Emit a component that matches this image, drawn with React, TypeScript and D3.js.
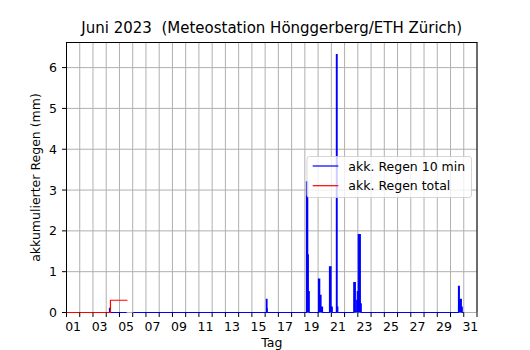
import React from "react";
import * as d3 from "d3";

// Blue series: "akk. Regen 10 min" (day of month, mm), step values; null = missing data
const blueDay = [4.21, 4.247, 4.308, 5.546, 5.55, 6.045, 16.095, 16.14, 16.162, 19.124, 19.215, 19.26, 19.328, 20.03, 20.121, 20.219, 20.332, 20.861, 20.975, 21.065, 21.382, 21.435, 21.488, 22.697, 22.81, 22.916, 22.961, 23.036, 23.187, 23.255, 30.603, 30.664, 30.815, 30.883, 31.0];
const blueMm: (number | null)[] = [0, 0.1, 0, 0, null, 0, 0.32, 0.1, 0, 3.2, 1.41, 0.51, 0, 0.82, 0.42, 0.13, 0, 1.12, 0.13, 0, 6.32, 0.13, 0, 0.73, 0.03, 0.3, 0.51, 1.91, 0.21, 0, 0.64, 0.32, 0.13, 0, 0];

// Red series: "akk. Regen total"
const redDay = [1, 4.32, 5.6];
const redMm = [0, 0.3, 0.3];

const xTickLabels = ["01", "03", "05", "07", "09", "11", "13", "15", "17", "19", "21", "23", "25", "27", "29", "31"];
const xTickLabelDays = [1, 3, 5, 7, 9, 11, 13, 15, 17, 19, 21, 23, 25, 27, 29, 31];
const yTicks = [0, 1, 2, 3, 4, 5, 6];
const gridDays = d3.range(1, 33);

const TITLE = "Juni 2023  (Meteostation Hönggerberg/ETH Zürich)";
const XLABEL = "Tag";
const YLABEL = "akkumulierter Regen (mm)";
const LEGEND = ["akk. Regen 10 min", "akk. Regen total"];

const W = 530, H = 350;
const L = 66.5, R = 477, T = 42.5, B = 312.5;
const FONT = "DejaVu Sans";

export default function App() {
  const x = d3.scaleLinear().domain([1, 32]).range([L, R]);
  const y = d3.scaleLinear().domain([0, 6.615]).range([B, T]);

  type P = [number, number | null];
  const blue: P[] = blueDay.map((d, i) => [d, blueMm[i]]);
  const red: P[] = redDay.map((d, i) => [d, redMm[i]]);

  const line = d3
    .line<P>()
    .defined((p) => p[1] != null)
    .x((p) => x(p[0]))
    .y((p) => y(p[1] as number))
    .curve(d3.curveStepAfter);
  const area = d3
    .area<P>()
    .defined((p) => p[1] != null)
    .x((p) => x(p[0]))
    .y0(y(0))
    .y1((p) => y(p[1] as number))
    .curve(d3.curveStepAfter);

  const grid = "#b0b0b0";
  const fs = 12.5;

  return (
    <svg
      width={W}
      height={H}
      style={{ position: "absolute", left: 0, top: 0, background: "#fff" }}
      fontFamily={FONT}
    >
      <defs>
        <clipPath id="plot">
          <rect x={L} y={T - 1} width={R - L} height={B - T + 2} />
        </clipPath>
      </defs>
      <rect x={0} y={0} width={W} height={H} fill="#fff" />
      {/* grid */}
      {gridDays.map((d) => (
        <line key={"gx" + d} x1={x(d)} x2={x(d)} y1={T} y2={B} stroke={grid} strokeWidth={1} />
      ))}
      {yTicks.map((v) => (
        <line key={"gy" + v} x1={L} x2={R} y1={y(v)} y2={y(v)} stroke={grid} strokeWidth={1} />
      ))}
      {/* data */}
      <g clipPath="url(#plot)">
        <path d={area(blue) || ""} fill="#0000ff" stroke="none" />
        <path d={line(blue) || ""} fill="none" stroke="#0000ff" strokeWidth={1.2} />
        <path d={line(red) || ""} fill="none" stroke="#ff0000" strokeWidth={1.2} />
      </g>
      {/* spines */}
      <line x1={L} x2={L} y1={T} y2={B} stroke="#000" strokeWidth={1} />
      <line x1={R} x2={R} y1={T} y2={B} stroke="#000" strokeWidth={1} />
      <line x1={L - 0.5} x2={R + 0.5} y1={T} y2={T} stroke="#000" strokeWidth={1} />
      {/* x ticks */}
      {gridDays.map((d) => (
        <line key={"tx" + d} x1={x(d)} x2={x(d)} y1={B} y2={B + 4.5} stroke="#000" strokeWidth={1} />
      ))}
      {xTickLabelDays.map((d, i) => (
        <text key={"lx" + d} x={x(d + 0.5)} y={330.5} fontSize={fs} textAnchor="middle" fill="#000">
          {xTickLabels[i]}
        </text>
      ))}
      {/* y ticks */}
      {yTicks.map((v) => (
        <g key={"ty" + v}>
          <line x1={L - 4.5} x2={L} y1={y(v)} y2={y(v)} stroke="#000" strokeWidth={1} />
          <text x={57} y={y(v) + 4.5} fontSize={fs} textAnchor="end" fill="#000">
            {v}
          </text>
        </g>
      ))}
      {/* labels */}
      <text x={(L + R) / 2} y={346.5} fontSize={fs} textAnchor="middle" fill="#000">
        {XLABEL}
      </text>
      <text
        transform={`translate(40, ${(T + B) / 2}) rotate(-90)`}
        fontSize={fs}
        textAnchor="middle"
        fill="#000"
      >
        {YLABEL}
      </text>
      <text
        x={(L + R) / 2}
        y={33.3}
        fontSize={15}
        textAnchor="middle"
        fill="#000"
        style={{ whiteSpace: "pre" }}
        xmlSpace="preserve"
      >
        {TITLE}
      </text>
      {/* legend */}
      <g>
        <rect
          x={307}
          y={156.5}
          width={164.5}
          height={41}
          rx={2.5}
          fill="#fff"
          fillOpacity={0.8}
          stroke="#cccccc"
          strokeOpacity={0.8}
          strokeWidth={1}
        />
        {LEGEND.map((t, i) => {
          const ly = 166 + i * 19.7;
          return (
            <g key={t}>
              <line x1={312.7} x2={338.3} y1={ly} y2={ly} stroke={i === 0 ? "#0000ff" : "#ff0000"} strokeWidth={1.2} />
              <text x={348.3} y={ly + 4.5} fontSize={fs} fill="#000">
                {t}
              </text>
            </g>
          );
        })}
      </g>
    </svg>
  );
}
